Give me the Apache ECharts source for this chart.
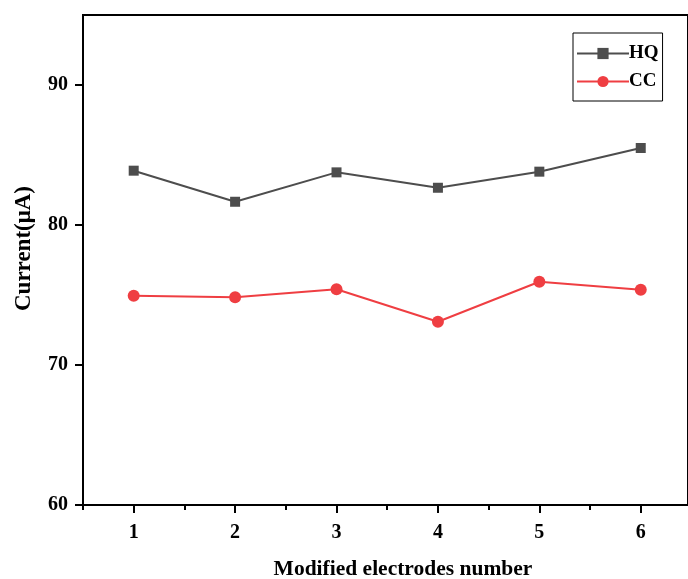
<!DOCTYPE html>
<html>
<head>
<meta charset="utf-8">
<script src="https://cdn.jsdelivr.net/npm/echarts@6/dist/echarts.min.js"></script>
<style>
  html, body { margin: 0; padding: 0; background: #fff; }
  #chart { width: 688px; height: 579px; }
</style>
</head>
<body>
<div id="chart"></div>
<script>
// data
var electrodes = [1, 2, 3, 4, 5, 6];
var hq = [83.88, 81.66, 83.76, 82.66, 83.81, 85.5];
var cc = [74.95, 74.84, 75.41, 73.09, 75.95, 75.38];
var yTicks = [60, 70, 80, 90];
var xMinorTicks = [0.5, 1.5, 2.5, 3.5, 4.5, 5.5];

var font = "'Liberation Serif', 'Times New Roman', serif";
var grey = "#4d4d4d";
var red = "#ef3e42";

function pairs(vals) {
  return electrodes.map(function (x, i) { return [x, vals[i]]; });
}

var chart = echarts.init(document.getElementById("chart"));
chart.setOption({
  animation: false,
  grid: {
    left: 83,
    right: 0,
    top: 15,
    bottom: 74,
    containLabel: false,
    outerBoundsMode: "none",
    show: true,
    borderColor: "#000",
    borderWidth: 2
  },
  legend: {
    orient: "vertical",
    left: 573,
    top: 33,
    padding: [11, 4, 10, 3],
    itemWidth: 52,
    itemHeight: 14,
    itemGap: 9,
    borderColor: "#000",
    borderWidth: 1,
    textStyle: { fontFamily: font, fontWeight: "bold", fontSize: 19, color: "#000", padding: [0, 0, 0, -5] },
    data: ["HQ", "CC"]
  },
  xAxis: [
    {
      type: "value",
      min: 0.5,
      max: 6.466,
      name: "Modified electrodes number",
      nameLocation: "middle",
      nameGap: 53,
      nameTextStyle: { fontFamily: font, fontWeight: "bold", fontSize: 21.5, color: "#000", padding: [0, 0, 0, 35] },
      axisLine: { lineStyle: { color: "#000", width: 2 } },
      axisTick: { length: 8, lineStyle: { width: 2, color: "#000" }, customValues: electrodes },
      axisLabel: { customValues: electrodes, margin: 18, fontFamily: font, fontWeight: "bold", fontSize: 20, color: "#000" },
      splitLine: { show: false }
    },
    {
      type: "value",
      min: 0.5,
      max: 6.466,
      position: "bottom",
      axisLine: { show: false },
      axisTick: { length: 5, lineStyle: { width: 2, color: "#000" }, customValues: xMinorTicks },
      axisLabel: { show: false },
      splitLine: { show: false }
    }
  ],
  yAxis: {
    type: "value",
    min: 60,
    max: 95,
    name: "Current(μA)",
    nameLocation: "middle",
    nameGap: 47,
    nameTextStyle: { fontFamily: font, fontWeight: "bold", fontSize: 23, color: "#000", padding: [0, 0, 0, 23] },
    axisLine: { show: true, lineStyle: { color: "#000", width: 2 } },
    axisTick: { show: true, length: 8, lineStyle: { width: 2, color: "#000" }, customValues: yTicks },
    axisLabel: { customValues: yTicks, margin: 15, fontFamily: font, fontWeight: "bold", fontSize: 20, color: "#000" },
    splitLine: { show: false }
  },
  series: [
    {
      name: "HQ",
      type: "line",
      data: pairs(hq),
      symbol: "rect",
      symbolSize: 10,
      itemStyle: { color: grey },
      lineStyle: { color: grey, width: 2 }
    },
    {
      name: "CC",
      type: "line",
      data: pairs(cc),
      symbol: "circle",
      symbolSize: 12,
      itemStyle: { color: red },
      lineStyle: { color: red, width: 2 }
    }
  ]
});
</script>
</body>
</html>
